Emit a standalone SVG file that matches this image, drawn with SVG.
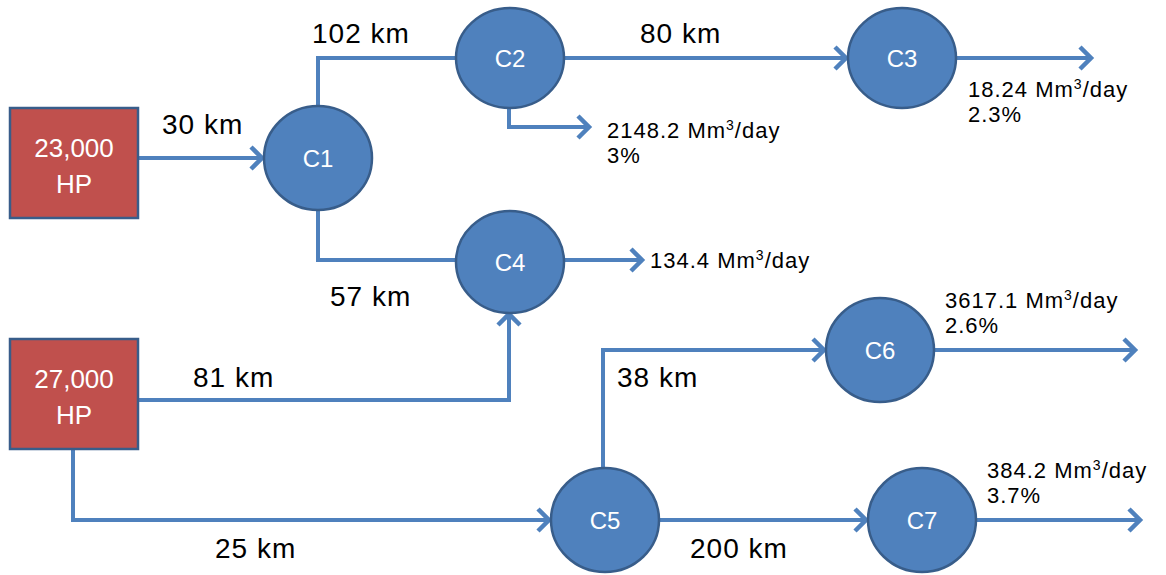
<svg xmlns="http://www.w3.org/2000/svg" width="1166" height="575" viewBox="0 0 1166 575">
<style>
.box{fill:#C0504D;stroke:#385D8A;stroke-width:2.5}
.comp{fill:#4F81BD;stroke:#385D8A;stroke-width:2.5}
.nt{font-family:"Liberation Sans",Arial,sans-serif;fill:#fff;text-anchor:middle}
.lbl{font-family:"Liberation Sans",Arial,sans-serif;font-size:28px;letter-spacing:1px;fill:#000}
.flow{font-family:"Liberation Sans",Arial,sans-serif;font-size:22px;letter-spacing:1px;fill:#000}
.sup{font-size:14px}
.c{fill:none;stroke:#4F81BD;stroke-width:4}
</style>
<defs>
<marker id="arr" markerUnits="userSpaceOnUse" markerWidth="30" markerHeight="30" viewBox="-15 -15 30 30" refX="0" refY="0" orient="auto" overflow="visible">
<path d="M-11,-11 L0,0 L-11,11" fill="none" stroke="#4F81BD" stroke-width="4.5"/>
</marker>
</defs>
<rect width="1166" height="575" fill="#fff"/>
<g id="connectors">
<path class="c" d="M138,158 H262" marker-end="url(#arr)"/>
<path class="c" d="M318,106 V58 H458"/>
<path class="c" d="M564,58 H846" marker-end="url(#arr)"/>
<path class="c" d="M956,58 H1091" marker-end="url(#arr)"/>
<path class="c" d="M509,108 V127 H589" marker-end="url(#arr)"/>
<path class="c" d="M318,210 V260 H458"/>
<path class="c" d="M564,260 H642" marker-end="url(#arr)"/>
<path class="c" d="M138,400 H509 V314" marker-end="url(#arr)"/>
<path class="c" d="M73,449 V520 H549" marker-end="url(#arr)"/>
<path class="c" d="M603,468 V350 H824" marker-end="url(#arr)"/>
<path class="c" d="M934,350 H1135" marker-end="url(#arr)"/>
<path class="c" d="M658,520 H866" marker-end="url(#arr)"/>
<path class="c" d="M976,520 H1140" marker-end="url(#arr)"/>
</g>
<g id="labels">
<text class="lbl" x="162" y="134">30 km</text>
<text class="lbl" x="312" y="43">102 km</text>
<text class="lbl" x="640" y="43">80 km</text>
<text class="lbl" x="330" y="306">57 km</text>
<text class="lbl" x="193" y="387">81 km</text>
<text class="lbl" x="617" y="387">38 km</text>
<text class="lbl" x="215" y="558">25 km</text>
<text class="lbl" x="690" y="558">200 km</text>
<text class="flow" x="968" y="97">18.24 Mm<tspan class="sup" dy="-8">3</tspan><tspan dy="8">/day</tspan></text>
<text class="flow" x="968" y="122">2.3%</text>
<text class="flow" x="607" y="138">2148.2 Mm<tspan class="sup" dy="-8">3</tspan><tspan dy="8">/day</tspan></text>
<text class="flow" x="607" y="163">3%</text>
<text class="flow" x="650" y="268">134.4 Mm<tspan class="sup" dy="-8">3</tspan><tspan dy="8">/day</tspan></text>
<text class="flow" x="945" y="308">3617.1 Mm<tspan class="sup" dy="-8">3</tspan><tspan dy="8">/day</tspan></text>
<text class="flow" x="945" y="333">2.6%</text>
<text class="flow" x="987" y="478">384.2 Mm<tspan class="sup" dy="-8">3</tspan><tspan dy="8">/day</tspan></text>
<text class="flow" x="987" y="503">3.7%</text>
</g>
<g id="hp1">
<rect class="box" x="10" y="108" width="128" height="110"/>
<text class="nt" x="74" y="157" font-size="26">23,000</text>
<text class="nt" x="74" y="193" font-size="26">HP</text>
</g>
<g id="hp2">
<rect class="box" x="10" y="339" width="128" height="110"/>
<text class="nt" x="74" y="388" font-size="26">27,000</text>
<text class="nt" x="74" y="424" font-size="26">HP</text>
</g>
<g id="C1"><ellipse class="comp" cx="318" cy="158" rx="54" ry="52"/><text class="nt" x="318" y="167" font-size="24">C1</text></g>
<g id="C2"><ellipse class="comp" cx="510" cy="58" rx="54" ry="50"/><text class="nt" x="510" y="67" font-size="24">C2</text></g>
<g id="C3"><ellipse class="comp" cx="902" cy="58" rx="54" ry="50"/><text class="nt" x="902" y="67" font-size="24">C3</text></g>
<g id="C4"><ellipse class="comp" cx="510" cy="262" rx="54" ry="51"/><text class="nt" x="510" y="271" font-size="24">C4</text></g>
<g id="C5"><ellipse class="comp" cx="605" cy="520" rx="54" ry="52"/><text class="nt" x="605" y="529" font-size="24">C5</text></g>
<g id="C6"><ellipse class="comp" cx="880" cy="350" rx="54" ry="52"/><text class="nt" x="880" y="359" font-size="24">C6</text></g>
<g id="C7"><ellipse class="comp" cx="922" cy="520" rx="54" ry="52"/><text class="nt" x="922" y="529" font-size="24">C7</text></g>
</svg>
